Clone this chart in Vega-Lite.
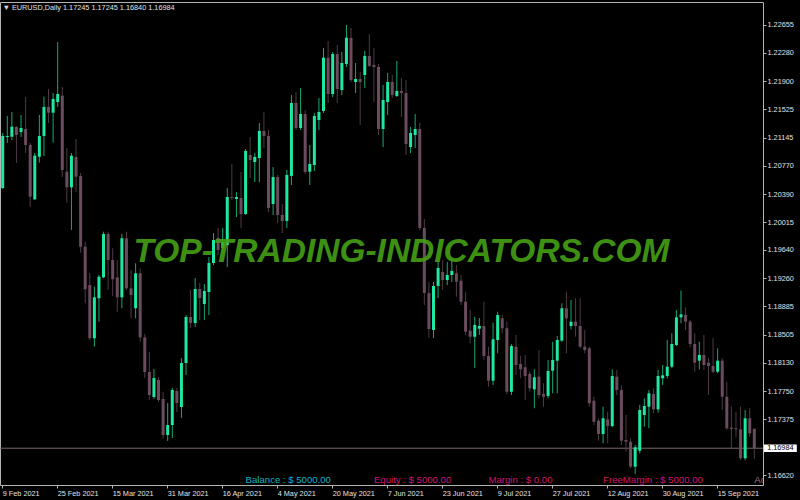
{
"$schema": "https://vega.github.io/schema/vega-lite/v6.json",
"width": 763,
"height": 483,
"autosize": {"type": "none"},
"padding": {"left": 0, "top": 2, "right": 37, "bottom": 15},
"background": "#000000",
"config": {"view": {"stroke": "#b4b4b4", "fill": "#000000", "strokeWidth": 1}, "font": "Liberation Sans", "axis": {"grid": false, "domain": false, "tickColor": "#b4b4b4", "labelColor": "#e0e0e0", "labelFont": "Liberation Sans", "labelFontSize": 7.3, "labelOverlap": false, "labelFlush": false}},
"data": {"values": [
{"d":"2021-02-09","o":1.20471,"h":1.21208,"l":1.20457,"c":1.21168},
{"d":"2021-02-10","o":1.21154,"h":1.21436,"l":1.21074,"c":1.21168},
{"d":"2021-02-11","o":1.21158,"h":1.21489,"l":1.21114,"c":1.21292},
{"d":"2021-02-12","o":1.21288,"h":1.21302,"l":1.20806,"c":1.21181},
{"d":"2021-02-15","o":1.21221,"h":1.21449,"l":1.21154,"c":1.21275},
{"d":"2021-02-16","o":1.21261,"h":1.2169,"l":1.2094,"c":1.21047},
{"d":"2021-02-17","o":1.21047,"h":1.21078,"l":1.2022,"c":1.20354},
{"d":"2021-02-18","o":1.20319,"h":1.2094,"l":1.2031,"c":1.20904},
{"d":"2021-02-19","o":1.2089,"h":1.21449,"l":1.2081,"c":1.21168},
{"d":"2021-02-22","o":1.21168,"h":1.21694,"l":1.209,"c":1.21556},
{"d":"2021-02-23","o":1.21556,"h":1.21797,"l":1.21342,"c":1.2148},
{"d":"2021-02-24","o":1.2148,"h":1.21744,"l":1.21078,"c":1.21663},
{"d":"2021-02-25","o":1.21623,"h":1.22427,"l":1.21556,"c":1.2173},
{"d":"2021-02-26","o":1.21708,"h":1.21824,"l":1.20618,"c":1.20712},
{"d":"2021-03-01","o":1.20689,"h":1.21007,"l":1.20274,"c":1.2048},
{"d":"2021-03-02","o":1.2048,"h":1.2094,"l":1.19908,"c":1.20904},
{"d":"2021-03-03","o":1.20886,"h":1.21127,"l":1.20421,"c":1.20622},
{"d":"2021-03-04","o":1.20632,"h":1.20672,"l":1.19604,"c":1.19684},
{"d":"2021-03-05","o":1.19684,"h":1.19751,"l":1.18926,"c":1.19113},
{"d":"2021-03-08","o":1.19171,"h":1.19332,"l":1.18434,"c":1.18457},
{"d":"2021-03-09","o":1.18457,"h":1.19148,"l":1.18344,"c":1.19006},
{"d":"2021-03-10","o":1.18993,"h":1.19305,"l":1.18679,"c":1.19282},
{"d":"2021-03-11","o":1.19274,"h":1.19885,"l":1.19261,"c":1.19854},
{"d":"2021-03-12","o":1.19854,"h":1.19885,"l":1.19104,"c":1.19506},
{"d":"2021-03-15","o":1.19506,"h":1.19663,"l":1.19024,"c":1.19247},
{"d":"2021-03-16","o":1.19274,"h":1.19506,"l":1.18813,"c":1.19006},
{"d":"2021-03-17","o":1.19006,"h":1.19854,"l":1.18859,"c":1.19797},
{"d":"2021-03-18","o":1.19797,"h":1.19885,"l":1.19104,"c":1.19127},
{"d":"2021-03-19","o":1.19127,"h":1.19372,"l":1.18725,"c":1.19037},
{"d":"2021-03-22","o":1.18859,"h":1.19462,"l":1.18725,"c":1.19328},
{"d":"2021-03-23","o":1.19328,"h":1.19395,"l":1.18411,"c":1.1847},
{"d":"2021-03-24","o":1.1847,"h":1.18514,"l":1.17925,"c":1.18005},
{"d":"2021-03-25","o":1.18005,"h":1.18273,"l":1.1763,"c":1.17697},
{"d":"2021-03-26","o":1.1767,"h":1.18045,"l":1.17643,"c":1.17925},
{"d":"2021-03-29","o":1.17898,"h":1.17938,"l":1.17603,"c":1.1763},
{"d":"2021-03-30","o":1.17643,"h":1.17737,"l":1.17107,"c":1.17161},
{"d":"2021-03-31","o":1.17161,"h":1.1759,"l":1.17081,"c":1.17295},
{"d":"2021-04-01","o":1.17295,"h":1.17791,"l":1.17121,"c":1.17764},
{"d":"2021-04-02","o":1.17751,"h":1.17791,"l":1.17469,"c":1.1759},
{"d":"2021-04-05","o":1.17536,"h":1.18193,"l":1.17389,"c":1.18126},
{"d":"2021-04-06","o":1.18126,"h":1.18769,"l":1.17965,"c":1.18742},
{"d":"2021-04-07","o":1.18742,"h":1.19104,"l":1.18595,"c":1.18662},
{"d":"2021-04-08","o":1.18662,"h":1.19265,"l":1.18608,"c":1.19117},
{"d":"2021-04-09","o":1.19117,"h":1.19198,"l":1.18702,"c":1.18997},
{"d":"2021-04-12","o":1.18916,"h":1.19184,"l":1.18702,"c":1.19091},
{"d":"2021-04-13","o":1.19077,"h":1.19546,"l":1.18769,"c":1.19466},
{"d":"2021-04-14","o":1.19466,"h":1.19868,"l":1.19439,"c":1.19774},
{"d":"2021-04-15","o":1.19801,"h":1.19935,"l":1.19573,"c":1.1964},
{"d":"2021-04-16","o":1.19667,"h":1.19935,"l":1.196,"c":1.19747},
{"d":"2021-04-19","o":1.19707,"h":1.20471,"l":1.19412,"c":1.2035},
{"d":"2021-04-20","o":1.2035,"h":1.20792,"l":1.2031,"c":1.20337},
{"d":"2021-04-21","o":1.20323,"h":1.20417,"l":1.20082,"c":1.2035},
{"d":"2021-04-22","o":1.20337,"h":1.20685,"l":1.19935,"c":1.20122},
{"d":"2021-04-23","o":1.20122,"h":1.20993,"l":1.20109,"c":1.20967},
{"d":"2021-04-26","o":1.20913,"h":1.21154,"l":1.20605,"c":1.20846},
{"d":"2021-04-27","o":1.20819,"h":1.2094,"l":1.20551,"c":1.20886},
{"d":"2021-04-28","o":1.20873,"h":1.21342,"l":1.20551,"c":1.21235},
{"d":"2021-04-29","o":1.21235,"h":1.21489,"l":1.21007,"c":1.21168},
{"d":"2021-04-30","o":1.21168,"h":1.21248,"l":1.20149,"c":1.20203},
{"d":"2021-05-03","o":1.20256,"h":1.20752,"l":1.20109,"c":1.20618},
{"d":"2021-05-04","o":1.20618,"h":1.20645,"l":1.20002,"c":1.20109},
{"d":"2021-05-05","o":1.20109,"h":1.20256,"l":1.19868,"c":1.20029},
{"d":"2021-05-06","o":1.20029,"h":1.20712,"l":1.19935,"c":1.20645},
{"d":"2021-05-07","o":1.20632,"h":1.21717,"l":1.20511,"c":1.2161},
{"d":"2021-05-10","o":1.2161,"h":1.21757,"l":1.21248,"c":1.21275},
{"d":"2021-05-11","o":1.21275,"h":1.21811,"l":1.21248,"c":1.21462},
{"d":"2021-05-12","o":1.21462,"h":1.21516,"l":1.20658,"c":1.20685},
{"d":"2021-05-13","o":1.20689,"h":1.21047,"l":1.20511,"c":1.20792},
{"d":"2021-05-14","o":1.20779,"h":1.21476,"l":1.20699,"c":1.21436},
{"d":"2021-05-17","o":1.21382,"h":1.21677,"l":1.21248,"c":1.21489},
{"d":"2021-05-18","o":1.21503,"h":1.22347,"l":1.21476,"c":1.22217},
{"d":"2021-05-19","o":1.22217,"h":1.22441,"l":1.2161,"c":1.2173},
{"d":"2021-05-20","o":1.2173,"h":1.22293,"l":1.2169,"c":1.22266},
{"d":"2021-05-21","o":1.22266,"h":1.22387,"l":1.2161,"c":1.21797},
{"d":"2021-05-24","o":1.21784,"h":1.22293,"l":1.21717,"c":1.22146},
{"d":"2021-05-25","o":1.22132,"h":1.22655,"l":1.22092,"c":1.22485},
{"d":"2021-05-26","o":1.22481,"h":1.22615,"l":1.21891,"c":1.21918},
{"d":"2021-05-27","o":1.21891,"h":1.22146,"l":1.21744,"c":1.21931},
{"d":"2021-05-28","o":1.21931,"h":1.22025,"l":1.21315,"c":1.21891},
{"d":"2021-05-31","o":1.21985,"h":1.22307,"l":1.21811,"c":1.2224},
{"d":"2021-06-01","o":1.2224,"h":1.22534,"l":1.22092,"c":1.22106},
{"d":"2021-06-02","o":1.22119,"h":1.22347,"l":1.21623,"c":1.22092},
{"d":"2021-06-03","o":1.22092,"h":1.22132,"l":1.21181,"c":1.21261},
{"d":"2021-06-04","o":1.21261,"h":1.21851,"l":1.2102,"c":1.2165},
{"d":"2021-06-07","o":1.21623,"h":1.22012,"l":1.21449,"c":1.21891},
{"d":"2021-06-08","o":1.21891,"h":1.21985,"l":1.21677,"c":1.21717},
{"d":"2021-06-09","o":1.21704,"h":1.22173,"l":1.2169,"c":1.21771},
{"d":"2021-06-10","o":1.21771,"h":1.21945,"l":1.21422,"c":1.21744},
{"d":"2021-06-11","o":1.21744,"h":1.21918,"l":1.20913,"c":1.2106},
{"d":"2021-06-14","o":1.2102,"h":1.21288,"l":1.2094,"c":1.21208},
{"d":"2021-06-15","o":1.21181,"h":1.21462,"l":1.21007,"c":1.21261},
{"d":"2021-06-16","o":1.21261,"h":1.21342,"l":1.19908,"c":1.19935},
{"d":"2021-06-17","o":1.19935,"h":1.20055,"l":1.18903,"c":1.19064},
{"d":"2021-06-18","o":1.19064,"h":1.19211,"l":1.18461,"c":1.18581},
{"d":"2021-06-21","o":1.18568,"h":1.19211,"l":1.18461,"c":1.19158},
{"d":"2021-06-22","o":1.19158,"h":1.19506,"l":1.18997,"c":1.19399},
{"d":"2021-06-23","o":1.19345,"h":1.19506,"l":1.19104,"c":1.19238},
{"d":"2021-06-24","o":1.19238,"h":1.19479,"l":1.19171,"c":1.19305},
{"d":"2021-06-25","o":1.19305,"h":1.19506,"l":1.19211,"c":1.19359},
{"d":"2021-06-28","o":1.19328,"h":1.19439,"l":1.19014,"c":1.19215},
{"d":"2021-06-29","o":1.19229,"h":1.19305,"l":1.18903,"c":1.18947},
{"d":"2021-06-30","o":1.18947,"h":1.19081,"l":1.18501,"c":1.18545},
{"d":"2021-07-01","o":1.18559,"h":1.18836,"l":1.18394,"c":1.18478},
{"d":"2021-07-02","o":1.18478,"h":1.18746,"l":1.18059,"c":1.18635},
{"d":"2021-07-05","o":1.18585,"h":1.18729,"l":1.18501,"c":1.18622},
{"d":"2021-07-06","o":1.18622,"h":1.18947,"l":1.18166,"c":1.1822},
{"d":"2021-07-07","o":1.1822,"h":1.18344,"l":1.17808,"c":1.17889},
{"d":"2021-07-08","o":1.17889,"h":1.18666,"l":1.17831,"c":1.18443},
{"d":"2021-07-09","o":1.18434,"h":1.18813,"l":1.18256,"c":1.18769},
{"d":"2021-07-12","o":1.18725,"h":1.18769,"l":1.18524,"c":1.18591},
{"d":"2021-07-13","o":1.18591,"h":1.18679,"l":1.1771,"c":1.17741},
{"d":"2021-07-14","o":1.17741,"h":1.1838,"l":1.17697,"c":1.18354},
{"d":"2021-07-15","o":1.18344,"h":1.18501,"l":1.17965,"c":1.18099},
{"d":"2021-07-16","o":1.18112,"h":1.1822,"l":1.17921,"c":1.18041},
{"d":"2021-07-19","o":1.18068,"h":1.18233,"l":1.1763,"c":1.17952},
{"d":"2021-07-20","o":1.17978,"h":1.18009,"l":1.17741,"c":1.17787},
{"d":"2021-07-21","o":1.17773,"h":1.18041,"l":1.17519,"c":1.17934},
{"d":"2021-07-22","o":1.17942,"h":1.183,"l":1.17653,"c":1.17697},
{"d":"2021-07-23","o":1.1771,"h":1.17854,"l":1.1754,"c":1.17674},
{"d":"2021-07-26","o":1.17684,"h":1.18166,"l":1.17653,"c":1.18019},
{"d":"2021-07-27","o":1.18023,"h":1.18411,"l":1.1772,"c":1.18166},
{"d":"2021-07-28","o":1.18157,"h":1.18488,"l":1.1772,"c":1.18434},
{"d":"2021-07-29","o":1.18425,"h":1.18926,"l":1.18411,"c":1.18859},
{"d":"2021-07-30","o":1.18859,"h":1.19081,"l":1.18256,"c":1.18725},
{"d":"2021-08-02","o":1.18622,"h":1.1897,"l":1.18577,"c":1.18679},
{"d":"2021-08-03","o":1.18679,"h":1.18993,"l":1.18478,"c":1.18622},
{"d":"2021-08-04","o":1.18622,"h":1.18993,"l":1.18323,"c":1.18344},
{"d":"2021-08-05","o":1.18344,"h":1.18568,"l":1.18256,"c":1.183},
{"d":"2021-08-06","o":1.18323,"h":1.18344,"l":1.1754,"c":1.17586},
{"d":"2021-08-09","o":1.17621,"h":1.17674,"l":1.17295,"c":1.17339},
{"d":"2021-08-10","o":1.17353,"h":1.17385,"l":1.17085,"c":1.17174},
{"d":"2021-08-11","o":1.17174,"h":1.1754,"l":1.1705,"c":1.17385},
{"d":"2021-08-12","o":1.17371,"h":1.17473,"l":1.1705,"c":1.17282},
{"d":"2021-08-13","o":1.17282,"h":1.18041,"l":1.17264,"c":1.17952},
{"d":"2021-08-16","o":1.17942,"h":1.18032,"l":1.17697,"c":1.17764},
{"d":"2021-08-17","o":1.17764,"h":1.17831,"l":1.17027,"c":1.17085},
{"d":"2021-08-18","o":1.17094,"h":1.17429,"l":1.16937,"c":1.17071},
{"d":"2021-08-19","o":1.17071,"h":1.17117,"l":1.16715,"c":1.16736},
{"d":"2021-08-20","o":1.16736,"h":1.17027,"l":1.16638,"c":1.16996},
{"d":"2021-08-23","o":1.16951,"h":1.17563,"l":1.16916,"c":1.17496},
{"d":"2021-08-24","o":1.17429,"h":1.17653,"l":1.17272,"c":1.1755},
{"d":"2021-08-25","o":1.1754,"h":1.17764,"l":1.17251,"c":1.1772},
{"d":"2021-08-26","o":1.1771,"h":1.17787,"l":1.17452,"c":1.17505},
{"d":"2021-08-27","o":1.17505,"h":1.18032,"l":1.1746,"c":1.17952},
{"d":"2021-08-30","o":1.17921,"h":1.18099,"l":1.17831,"c":1.17961},
{"d":"2021-08-31","o":1.17952,"h":1.18434,"l":1.17921,"c":1.18076},
{"d":"2021-09-01","o":1.18076,"h":1.18524,"l":1.18055,"c":1.1838},
{"d":"2021-09-02","o":1.18367,"h":1.18836,"l":1.18354,"c":1.18738},
{"d":"2021-09-03","o":1.18738,"h":1.19095,"l":1.18658,"c":1.18778},
{"d":"2021-09-06","o":1.18769,"h":1.18872,"l":1.18568,"c":1.18679},
{"d":"2021-09-07","o":1.18679,"h":1.18702,"l":1.18336,"c":1.1838},
{"d":"2021-09-08","o":1.1838,"h":1.18524,"l":1.18009,"c":1.1813},
{"d":"2021-09-09","o":1.18157,"h":1.18411,"l":1.18041,"c":1.18233},
{"d":"2021-09-10","o":1.18233,"h":1.18501,"l":1.18032,"c":1.18099},
{"d":"2021-09-13","o":1.1813,"h":1.18189,"l":1.17697,"c":1.18086},
{"d":"2021-09-14","o":1.18086,"h":1.18457,"l":1.17988,"c":1.18009},
{"d":"2021-09-15","o":1.18009,"h":1.18323,"l":1.17988,"c":1.18157},
{"d":"2021-09-16","o":1.18157,"h":1.18189,"l":1.17496,"c":1.17674},
{"d":"2021-09-17","o":1.17674,"h":1.17875,"l":1.17228,"c":1.17251},
{"d":"2021-09-20","o":1.17259,"h":1.1754,"l":1.16983,"c":1.17241},
{"d":"2021-09-21","o":1.17251,"h":1.17473,"l":1.17138,"c":1.17237},
{"d":"2021-09-22","o":1.17237,"h":1.1754,"l":1.16826,"c":1.16849},
{"d":"2021-09-23","o":1.16849,"h":1.17496,"l":1.16826,"c":1.17385},
{"d":"2021-09-24","o":1.17385,"h":1.17519,"l":1.17138,"c":1.17184},
{"d":"2021-09-27","o":1.17245,"h":1.17245,"l":1.1684,"c":1.16984}
]},
"layer": [
{
"data": {"values": [{"p": 1.16984}]},
"mark": {"type": "rule", "strokeWidth": 1, "color": "#7a6872"},
"encoding": {
"y": {"field": "p", "type": "quantitative", "title": null, "scale": {"domain": [1.16491, 1.22963], "nice": false, "zero": false},
"axis": {"orient": "right", "values": [1.22655, 1.2228, 1.219, 1.21525, 1.21145, 1.2077, 1.2039, 1.20015, 1.1964, 1.1926, 1.18885, 1.18505, 1.1813, 1.1775, 1.17375, 1.1662], "tickCount": 40, "format": ".5f", "title": null, "domain": false, "grid": false, "tickSize": 3, "tickColor": "#b4b4b4", "labelPadding": 1, "labelColor": "#e0e0e0", "labelFont": "Liberation Sans", "labelFontSize": 7.3, "labelOverlap": false, "labelFlush": false, "labelBaseline": "middle"}}
}
},
{
"mark": {"type": "rule", "strokeWidth": 1},
"encoding": {
"x": {"field": "d", "type": "ordinal", "title": null, "scale": {"type": "band", "paddingInner": 0, "paddingOuter": 0.742, "align": 0.06},
"axis": {"values": ["2021-02-09","2021-02-25","2021-03-15","2021-03-31","2021-04-16","2021-05-04","2021-05-20","2021-06-07","2021-06-23","2021-07-09","2021-07-27","2021-08-12","2021-08-30","2021-09-15"],
"labelExpr": "utcFormat(toDate(datum.value), '%-d %b %Y')", "title": null, "orient": "bottom", "domain": false, "grid": false, "ticks": true, "tickSize": 3, "tickColor": "#b4b4b4", "bandPosition": 0.5, "labelAlign": "left", "labelBaseline": "top", "labelPadding": 1, "labelAngle": 0, "labelColor": "#e0e0e0", "labelFont": "Liberation Sans", "labelFontSize": 7.3, "labelOverlap": false, "labelFlush": false}},
"y": {"field": "l", "type": "quantitative", "title": null, "scale": {"domain": [1.16491, 1.22963], "nice": false, "zero": false},
"axis": {"orient": "right", "values": [1.22655, 1.2228, 1.219, 1.21525, 1.21145, 1.2077, 1.2039, 1.20015, 1.1964, 1.1926, 1.18885, 1.18505, 1.1813, 1.1775, 1.17375, 1.1662], "tickCount": 40, "format": ".5f", "title": null, "domain": false, "grid": false, "tickSize": 3, "tickColor": "#b4b4b4", "labelPadding": 1, "labelColor": "#e0e0e0", "labelFont": "Liberation Sans", "labelFontSize": 7.3, "labelOverlap": false, "labelFlush": false, "labelBaseline": "middle"}},
"y2": {"field": "h"},
"color": {"condition": {"test": "datum.c >= datum.o", "value": "#14a877"}, "value": "#4f3a47"}
}
},
{
"mark": {"type": "bar", "size": 3},
"encoding": {
"x": {"field": "d", "type": "ordinal", "title": null},
"y": {"field": "o", "type": "quantitative", "title": null, "scale": {"domain": [1.16491, 1.22963], "nice": false, "zero": false}},
"y2": {"field": "c"},
"color": {"condition": {"test": "datum.c >= datum.o", "value": "#1fe8a3"}, "value": "#6b4c5e"}
}
},
{
"data": {"values": [{"d": "2021-06-10", "p": 1.19483, "t": "TOP-TRADING-INDICATORS.COM"}]},
"mark": {"type": "text", "font": "Liberation Sans", "fontWeight": "bold", "fontStyle": "italic", "fontSize": 33.5, "align": "center", "baseline": "alphabetic", "color": "#45a015", "opacity": 0.9},
"encoding": {
"x": {"field": "d", "type": "ordinal", "title": null},
"y": {"field": "p", "type": "quantitative", "title": null, "scale": {"domain": [1.16491, 1.22963], "nice": false, "zero": false}},
"text": {"field": "t"}
}
},
{
"data": {"values": [
{"d": "2021-04-23", "p": 1.16514, "t": "Balance : $ 5000.00"},
{"d": "2021-06-02", "p": 1.16514, "t": "Equity : $ 5000.00"},
{"d": "2021-07-07", "p": 1.16514, "t": "Margin : $ 0.00"},
{"d": "2021-08-11", "p": 1.16514, "t": "FreeMargin : $ 5000.00"},
{"d": "2021-09-27", "p": 1.16514, "t": "Ac"}
]},
"mark": {"type": "text", "font": "Liberation Sans", "fontSize": 9.6, "align": "left", "baseline": "alphabetic", "clip": true},
"encoding": {
"x": {"field": "d", "type": "ordinal", "title": null},
"y": {"field": "p", "type": "quantitative", "title": null, "scale": {"domain": [1.16491, 1.22963], "nice": false, "zero": false}},
"text": {"field": "t"},
"color": {"condition": [{"test": "datum.t == 'Ac'", "value": "#9c6f82"}, {"test": "indexof(datum.t, 'Balance') == 0", "value": "#12b2c6"}], "value": "#d1136d"}
}
},
{
"data": {"values": [{"d": "2021-02-09", "p": 1.22856, "t": "▼ EURUSD,Daily  1.17245 1.17245 1.16840 1.16984"}]},
"mark": {"type": "text", "font": "Liberation Sans", "fontSize": 7.3, "align": "left", "baseline": "alphabetic", "color": "#e0e0e0"},
"encoding": {
"x": {"field": "d", "type": "ordinal", "title": null},
"y": {"field": "p", "type": "quantitative", "title": null, "scale": {"domain": [1.16491, 1.22963], "nice": false, "zero": false}},
"text": {"field": "t"}
}
},
{
"data": {"values": [{"d": "2021-09-27", "p": 1.16984, "t": "1.16984"}]},
"mark": {"type": "point", "shape": "M-1,-0.225H1V0.225H-1Z", "size": 1089, "filled": true, "color": "#ffffff", "opacity": 1, "strokeWidth": 0, "xOffset": 26},
"encoding": {
"x": {"field": "d", "type": "ordinal", "title": null},
"y": {"field": "p", "type": "quantitative", "title": null, "scale": {"domain": [1.16491, 1.22963], "nice": false, "zero": false}}
}
},
{
"data": {"values": [{"d": "2021-09-27", "p": 1.16984, "t": "1.16984"}]},
"mark": {"type": "text", "font": "Liberation Sans", "fontSize": 7.3, "align": "center", "baseline": "middle", "color": "#000000", "xOffset": 26},
"encoding": {
"x": {"field": "d", "type": "ordinal", "title": null},
"y": {"field": "p", "type": "quantitative", "title": null, "scale": {"domain": [1.16491, 1.22963], "nice": false, "zero": false}},
"text": {"field": "t"}
}
}
]
}
